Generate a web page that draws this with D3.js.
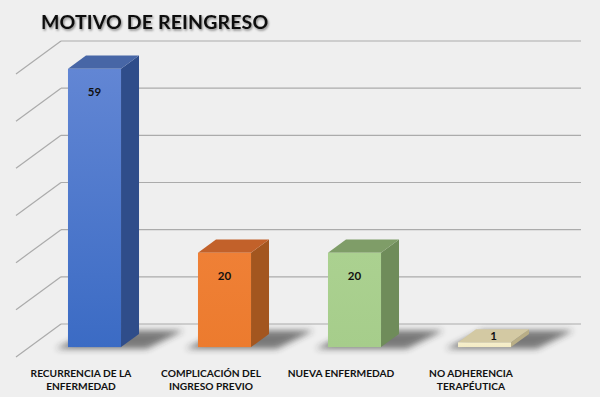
<!DOCTYPE html>
<html lang="es">
<head>
    <meta charset="UTF-8">
    <script src="https://cdnjs.cloudflare.com/ajax/libs/d3/7.8.5/d3.min.js"></script>
    <style>
        body { margin: 0; background: #efefef; }
        svg { display: block; }
        text { font-family: Lato, "Open Sans", sans-serif; font-weight: bold; fill: #111; }
    </style>
</head>
<body>
    <svg id="chart" width="600" height="397"></svg>
    <script>
        const categories = ["RECURRENCIA DE LA ENFERMEDAD", "COMPLICACIÓN DEL INGRESO PREVIO", "NUEVA ENFERMEDAD", "NO ADHERENCIA TERAPÉUTICA"];
        const labelLines = [["RECURRENCIA DE LA", "ENFERMEDAD"], ["COMPLICACIÓN DEL", "INGRESO PREVIO"], ["NUEVA ENFERMEDAD"], ["NO ADHERENCIA", "TERAPÉUTICA"]];
        const values = [59, 20, 20, 1];
        const yTicks = [0, 10, 20, 30, 40, 50, 60];

        // front, side, top colours per bar
        const fills = [
            { front: ["#6286d4", "#3b6bc4"], side: "#2f4d8a", top: "#4766a6" },
            { front: ["#ef8036", "#ec7b2e"], side: "#a3561f", top: "#c2612a" },
            { front: ["#abd190", "#a6cd8b"], side: "#6f8c5a", top: "#7f9d68" },
            { front: ["#f7f0cc", "#f3ebc4"], side: "#b9ae86", top: "#d3c9a3" }
        ];

        const svg = d3.select("#chart");
        const depthX = 45, depthY = 33;

        const xScale = d3.scaleBand().domain(categories).range([16, 536])
            .paddingInner(0.592).paddingOuter(0.296);
        const yScale = d3.scaleLinear().domain([0, 60]).range([357, 74]);

        // t = depth fraction (0 front plane, 1 back wall)
        const proj = (x, v, t) => [x + depthX * t, yScale(v) - depthY * t];

        const defs = svg.append("defs");
        fills.forEach((f, i) => {
            const g = defs.append("linearGradient").attr("id", "fg" + i)
                .attr("x1", 0).attr("y1", 0).attr("x2", 0).attr("y2", 1);
            g.append("stop").attr("offset", "0%").attr("stop-color", f.front[0]);
            g.append("stop").attr("offset", "100%").attr("stop-color", f.front[1]);
        });
        defs.append("filter").attr("id", "blur").attr("x", "-50%").attr("y", "-50%")
            .attr("width", "200%").attr("height", "200%")
            .append("feGaussianBlur").attr("stdDeviation", 3);
        defs.append("filter").attr("id", "tshadow")
            .append("feDropShadow").attr("dx", 1).attr("dy", 1.5)
            .attr("stdDeviation", 1.2).attr("flood-color", "#000").attr("flood-opacity", 0.45);

        // title
        svg.append("text")
            .attr("x", 41).attr("y", 29)
            .attr("font-size", 19.5)
            .attr("letter-spacing", 0.15)
            .attr("filter", "url(#tshadow)")
            .text("MOTIVO DE REINGRESO");

        // gridlines on the back wall + diagonals on the left
        const grid = svg.append("g").attr("stroke", "#ababab").attr("stroke-width", 1.2);
        const [x0, x1] = xScale.range();
        grid.selectAll("line.h").data(yTicks).join("line").attr("class", "h")
            .attr("x1", d => proj(x0, d, 1)[0]).attr("y1", d => proj(x0, d, 1)[1])
            .attr("x2", d => proj(x1, d, 1)[0]).attr("y2", d => proj(x1, d, 1)[1]);
        grid.selectAll("line.d").data(yTicks).join("line").attr("class", "d")
            .attr("x1", d => proj(x0, d, 0)[0]).attr("y1", d => proj(x0, d, 0)[1])
            .attr("x2", d => proj(x0, d, 1)[0]).attr("y2", d => proj(x0, d, 1)[1]);

        const tF = 0.3, tB = 0.7;
        const w = xScale.bandwidth();
        const pts = a => a.map(p => p.join(",")).join(" ");

        const bars = svg.selectAll("g.bar").data(values).join("g").attr("class", "bar");

        // soft shadow on the floor
        bars.append("polygon")
            .attr("points", (d, i) => {
                const x = xScale(categories[i]);
                return pts([proj(x - 10, 0, 0.25), proj(x + w + 28, 0, 0.25),
                            proj(x + w + 40, 0, 0.8), proj(x + 2, 0, 0.8)]);
            })
            .attr("fill", "#2a2a2a").attr("opacity", 0.6).attr("filter", "url(#blur)");

        // side face
        bars.append("polygon")
            .attr("points", (d, i) => {
                const x = xScale(categories[i]) + w;
                return pts([proj(x, d, tF), proj(x, d, tB), proj(x, 0, tB), proj(x, 0, tF)]);
            })
            .attr("fill", (d, i) => fills[i].side);

        // top face
        bars.append("polygon")
            .attr("points", (d, i) => {
                const x = xScale(categories[i]);
                return pts([proj(x, d, tF), proj(x, d, tB), proj(x + w, d, tB), proj(x + w, d, tF)]);
            })
            .attr("fill", (d, i) => fills[i].top);

        // front face
        bars.append("rect")
            .attr("x", (d, i) => proj(xScale(categories[i]), d, tF)[0])
            .attr("y", d => proj(0, d, tF)[1])
            .attr("width", w)
            .attr("height", d => yScale(0) - yScale(d))
            .attr("fill", (d, i) => `url(#fg${i})`);

        // value labels
        bars.append("text")
            .attr("text-anchor", "middle")
            .attr("font-size", 11.5)
            .attr("x", (d, i) => proj(xScale(categories[i]) + w / 2, d, d < 5 ? 0.5 : tF)[0])
            .attr("y", d => d < 5 ? proj(0, d, 0.5)[1] + 4 : proj(0, d, tF)[1] + 27)
            .text(d => d);

        // category labels
        const labels = svg.selectAll("text.cat").data(categories).join("text")
            .attr("class", "cat")
            .attr("text-anchor", "middle")
            .attr("font-size", 10.2)
            .attr("transform", d => `translate(${xScale(d) + w / 2},376.5)`);
        labels.selectAll("tspan").data((d, i) => labelLines[i]).join("tspan")
            .attr("x", 0).attr("dy", (d, j) => j === 0 ? 0 : 13)
            .text(d => d);
    </script>
</body>
</html>
